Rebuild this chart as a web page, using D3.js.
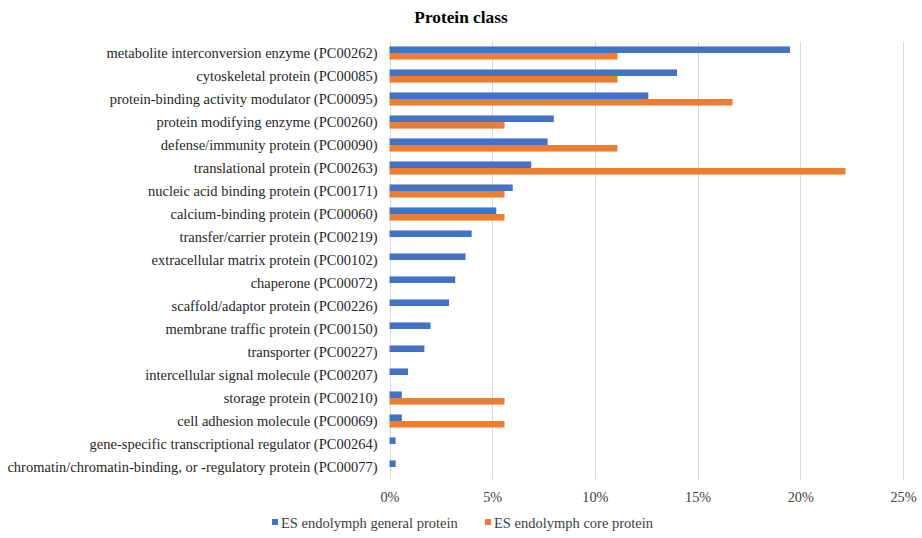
<!DOCTYPE html>
<html>
<head>
<meta charset="utf-8">
<script src="https://cdn.jsdelivr.net/npm/d3@7"></script>
<style>
  html, body { margin: 0; padding: 0; background: #fff; }
  svg { display: block; }
</style>
</head>
<body>
<svg id="chart" width="922" height="538"></svg>
<script>
// Protein classes, top to bottom
const categories = [
  "metabolite interconversion enzyme (PC00262)",
  "cytoskeletal protein (PC00085)",
  "protein-binding activity modulator (PC00095)",
  "protein modifying enzyme (PC00260)",
  "defense/immunity protein (PC00090)",
  "translational protein (PC00263)",
  "nucleic acid binding protein (PC00171)",
  "calcium-binding protein (PC00060)",
  "transfer/carrier protein (PC00219)",
  "extracellular matrix protein (PC00102)",
  "chaperone (PC00072)",
  "scaffold/adaptor protein (PC00226)",
  "membrane traffic protein (PC00150)",
  "transporter (PC00227)",
  "intercellular signal molecule (PC00207)",
  "storage protein (PC00210)",
  "cell adhesion molecule (PC00069)",
  "gene-specific transcriptional regulator (PC00264)",
  "chromatin/chromatin-binding, or -regulatory protein (PC00077)"
];

// Percent of proteins in each class
const generalProtein = [19.5, 14.0, 12.6, 8.0, 7.7, 6.9, 6.0, 5.2, 4.0, 3.7, 3.2, 2.9, 2.0, 1.7, 0.9, 0.6, 0.6, 0.3, 0.3];
const coreProtein    = [11.1, 11.1, 16.7, 5.6, 11.1, 22.2, 5.6, 5.6, 0, 0, 0, 0, 0, 0, 0, 5.6, 5.6, 0, 0];

const seriesNames = ["ES endolymph general protein", "ES endolymph core protein"];
const seriesColors = ["#4472C4", "#ED7D31"];
const xTicks = [0, 5, 10, 15, 20, 25];

const svg = d3.select("#chart");
const font = "'Liberation Serif', 'Times New Roman', serif";

const margin = { left: 389.5, right: 19, top: 41.5, bottom: 59.5 };
const W = 922, H = 538;

const x = d3.scaleLinear().domain([0, 25]).range([margin.left, W - margin.right]);
const y = d3.scaleBand().domain(categories).range([margin.top, H - margin.bottom]).paddingInner(0.43).paddingOuter(0.215);
const sub = d3.scaleBand().domain([0, 1]).range([0, y.bandwidth()]);

// Title
svg.append("text")
  .attr("x", 461).attr("y", 23)
  .attr("text-anchor", "middle")
  .attr("font-family", font).attr("font-weight", "bold")
  .attr("font-size", 17.3).attr("fill", "#000")
  .text("Protein class");

// Vertical gridlines
const gridTop = margin.top, gridBottom = H - margin.bottom + 1;
svg.append("g").selectAll("line")
  .data(xTicks)
  .join("line")
  .attr("x1", d => Math.round(x(d)) + 0.5).attr("x2", d => Math.round(x(d)) + 0.5)
  .attr("y1", gridTop).attr("y2", gridBottom)
  .attr("stroke", "#d9d9d9").attr("stroke-width", 1);

// X axis tick labels
const xAxis = d3.axisBottom(x).tickValues(xTicks).tickFormat(d => d + "%").tickSize(0).tickPadding(0);
const gx = svg.append("g").attr("transform", `translate(0, ${H - 36})`).call(xAxis);
gx.select(".domain").remove();
gx.selectAll("text")
  .attr("font-family", font).attr("font-size", 14.3).attr("fill", "#404040")
  .attr("dy", "0");

// Category axis labels
const yAxis = d3.axisLeft(y).tickSize(0).tickPadding(12);
const gy = svg.append("g").attr("transform", `translate(${margin.left}, 0)`).call(yAxis);
gy.select(".domain").remove();
gy.selectAll("text")
  .attr("font-family", font).attr("font-size", 14.5).attr("fill", "#262626");

// Bars
const seriesData = [generalProtein, coreProtein];
seriesData.forEach((vals, si) => {
  svg.append("g").selectAll("rect")
    .data(vals.map((v, i) => ({ cat: categories[i], v })))
    .join("rect")
    .attr("x", x(0))
    .attr("y", d => y(d.cat) + sub(si))
    .attr("width", d => x(d.v) - x(0))
    .attr("height", sub.bandwidth())
    .attr("fill", seriesColors[si]);
});

// Legend
const legendItems = [
  { name: seriesNames[0], color: seriesColors[0], x: 272 },
  { name: seriesNames[1], color: seriesColors[1], x: 485 }
];
const lg = svg.append("g");
legendItems.forEach(it => {
  lg.append("rect").attr("x", it.x).attr("y", 519).attr("width", 6).attr("height", 6).attr("fill", it.color);
  lg.append("text").attr("x", it.x + 9).attr("y", 527.5)
    .attr("font-family", font).attr("font-size", 14.5).attr("fill", "#404040")
    .text(it.name);
});
</script>
</body>
</html>
